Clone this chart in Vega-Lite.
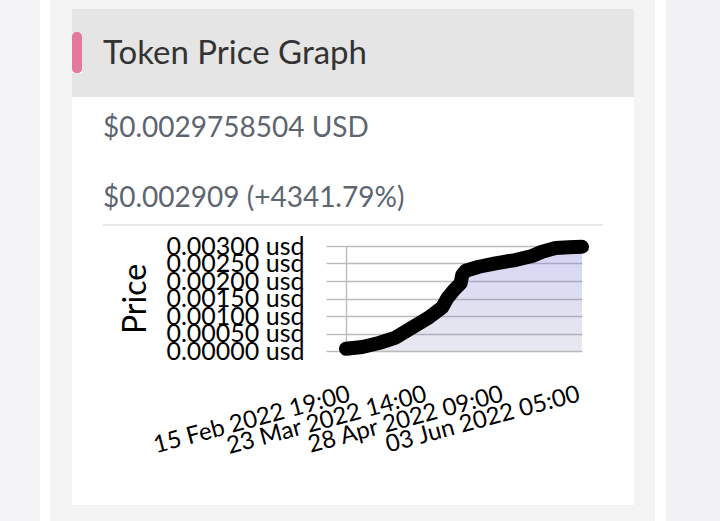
{
  "$schema": "https://vega.github.io/schema/vega-lite/v6.json",
  "padding": 0,
  "background": "#ffffff",
  "config": {"view": {"stroke": null}, "font": "Lato", "concat": {"spacing": 0}},
  "datasets": {
    "blank": [{}],
    "prices": [
      {"time": "2022-02-15T19:00", "price": 0.0000655},
      {"time": "2022-02-23T10:00", "price": 0.000115},
      {"time": "2022-03-03T05:00", "price": 0.000229},
      {"time": "2022-03-11T00:00", "price": 0.000384},
      {"time": "2022-03-18T18:00", "price": 0.000670},
      {"time": "2022-03-26T13:00", "price": 0.000957},
      {"time": "2022-04-01T19:00", "price": 0.001244},
      {"time": "2022-04-04T03:00", "price": 0.001501},
      {"time": "2022-04-07T06:00", "price": 0.001739},
      {"time": "2022-04-10T09:00", "price": 0.001931},
      {"time": "2022-04-11T03:00", "price": 0.002169},
      {"time": "2022-04-12T17:00", "price": 0.002292},
      {"time": "2022-04-18T22:00", "price": 0.002407},
      {"time": "2022-04-26T17:00", "price": 0.002504},
      {"time": "2022-05-06T01:00", "price": 0.002599},
      {"time": "2022-05-13T19:00", "price": 0.002713},
      {"time": "2022-05-18T12:00", "price": 0.002837},
      {"time": "2022-05-24T18:00", "price": 0.002940},
      {"time": "2022-05-30T23:00", "price": 0.002962},
      {"time": "2022-06-06T04:00", "price": 0.002976}
    ]
  },
  "spacing": 0,
  "hconcat": [
    {"width": 40, "height": 521, "data": {"name": "blank"}, "mark": {"type": "point", "opacity": 0, "size": 0, "strokeWidth": 0}, "encoding": {}, "view": {"fill": "#f3f3f5"}},
    {"width": 10, "height": 521, "data": {"name": "blank"}, "mark": {"type": "point", "opacity": 0, "size": 0, "strokeWidth": 0}, "encoding": {}},
    {"width": 22, "height": 521, "data": {"name": "blank"}, "mark": {"type": "point", "opacity": 0, "size": 0, "strokeWidth": 0}, "encoding": {}, "view": {"fill": "#f4f4f4"}},
    {
      "spacing": 0,
      "vconcat": [
        {"width": 562, "height": 9, "data": {"name": "blank"}, "mark": {"type": "point", "opacity": 0, "size": 0, "strokeWidth": 0}, "encoding": {}, "view": {"fill": "#f4f4f4"}},
        {
          "spacing": 0,
          "hconcat": [
            {
              "spacing": 0,
              "vconcat": [
                {"width": 10, "height": 23, "data": {"name": "blank"}, "mark": {"type": "point", "opacity": 0, "size": 0, "strokeWidth": 0}, "encoding": {}, "view": {"fill": "#e5e5e5"}},
                {"width": 10, "height": 41, "data": {"name": "blank"}, "mark": {"type": "point", "opacity": 0, "size": 0, "strokeWidth": 0}, "encoding": {}, "view": {"fill": "#e27a9e", "cornerRadius": 4}},
                {"width": 10, "height": 24, "data": {"name": "blank"}, "mark": {"type": "point", "opacity": 0, "size": 0, "strokeWidth": 0}, "encoding": {}, "view": {"fill": "#e5e5e5"}}
              ]
            },
            {
              "width": 552, "height": 88,
              "data": {"name": "blank"},
              "mark": {"type": "point", "opacity": 0, "size": 0, "strokeWidth": 0},
              "encoding": {},
              "view": {"fill": "#e5e5e5"},
              "title": {"text": "Token Price Graph", "anchor": "start", "frame": "group", "orient": "top", "offset": -88, "baseline": "alphabetic", "dx": 21, "fontSize": 33, "fontWeight": "normal", "color": "#333333", "font": "Lato"}
            }
          ]
        },
        {
          "width": 562, "height": 127,
          "data": {"name": "blank"},
          "mark": {"type": "point", "opacity": 0, "size": 0, "strokeWidth": 0},
          "encoding": {},
          "title": {"text": ["$0.0029758504 USD", "$0.002909 (+4341.79%)"], "anchor": "start", "frame": "group", "orient": "top", "offset": -138, "baseline": "alphabetic", "dx": 31, "lineHeight": 70, "fontSize": 28, "fontWeight": "normal", "color": "#5d6570", "font": "Lato"}
        },
        {
          "spacing": 0,
          "hconcat": [
            {"width": 31, "height": 2, "data": {"name": "blank"}, "mark": {"type": "point", "opacity": 0, "size": 0, "strokeWidth": 0}, "encoding": {}},
            {"width": 500, "height": 2, "data": {"name": "blank"}, "mark": {"type": "point", "opacity": 0, "size": 0, "strokeWidth": 0}, "encoding": {}, "view": {"fill": "#e8e8e8"}}
          ]
        },
        {"width": 562, "height": 8, "data": {"name": "blank"}, "mark": {"type": "point", "opacity": 0, "size": 0, "strokeWidth": 0}, "encoding": {}},
        {
          "spacing": 0,
          "hconcat": [
            {"width": 47, "height": 105, "data": {"name": "blank"}, "mark": {"type": "point", "opacity": 0, "size": 0, "strokeWidth": 0}, "encoding": {}},
            {
              "width": 236, "height": 105,
              "data": {"name": "prices"},
              "encoding": {
                "x": {
                  "field": "time", "type": "temporal",
                  "scale": {"nice": false},
                  "axis": {
                    "title": null,
                    "values": [
                      {"year": 2022, "month": "feb", "date": 15, "hours": 19},
                      {"year": 2022, "month": "mar", "date": 23, "hours": 14},
                      {"year": 2022, "month": "apr", "date": 28, "hours": 9},
                      {"year": 2022, "month": "jun", "date": 3, "hours": 5}
                    ],
                    "format": "%d %b %Y %H:%M",
                    "labelAngle": -15,
                    "labelAlign": "right",
                    "labelBaseline": "top",
                    "labelFontSize": 24,
                    "labelColor": "#000000",
                    "labelPadding": 31,
                    "labelLimit": 400,
                    "labelOverlap": false,
                    "labelFlush": false,
                    "labelBound": false,
                    "ticks": false,
                    "domain": false,
                    "grid": false
                  }
                },
                "y": {
                  "field": "price", "type": "quantitative",
                  "scale": {"domain": [0, 0.003], "nice": false},
                  "axis": {
                    "title": "Price",
                    "titleFontSize": 32,
                    "titleFontWeight": "normal",
                    "titleColor": "#000000",
                    "titlePadding": 13,
                    "values": [0, 0.0005, 0.001, 0.0015, 0.002, 0.0025, 0.003],
                    "labelExpr": "format(datum.value, '.5f') + ' usd'",
                    "labelFontSize": 25,
                    "labelColor": "#000000",
                    "labelPadding": 22,
                    "labelOverlap": false,
                    "labelFlush": false,
                    "tickSize": 20,
                    "tickColor": "#bababa",
                    "tickWidth": 1.4,
                    "domainColor": "#bababa",
                    "domainWidth": 1.4,
                    "grid": true,
                    "gridColor": "#bababa",
                    "gridWidth": 1.4
                  }
                }
              },
              "layer": [
                {
                  "mark": {
                    "type": "area",
                    "color": {
                      "gradient": "linear", "x1": 0, "y1": 0, "x2": 0, "y2": 1,
                      "stops": [
                        {"offset": 0, "color": "rgba(120,120,220,0.32)"},
                        {"offset": 1, "color": "rgba(150,150,190,0.22)"}
                      ]
                    }
                  }
                },
                {
                  "mark": {"type": "line", "color": "#000000", "strokeWidth": 14, "strokeCap": "round", "strokeJoin": "round"}
                }
              ]
            }
          ]
        },
        {"width": 562, "height": 46, "data": {"name": "blank"}, "mark": {"type": "point", "opacity": 0, "size": 0, "strokeWidth": 0}, "encoding": {}},
        {"width": 562, "height": 16, "data": {"name": "blank"}, "mark": {"type": "point", "opacity": 0, "size": 0, "strokeWidth": 0}, "encoding": {}, "view": {"fill": "#f4f4f4"}}
      ]
    },
    {"width": 21, "height": 521, "data": {"name": "blank"}, "mark": {"type": "point", "opacity": 0, "size": 0, "strokeWidth": 0}, "encoding": {}, "view": {"fill": "#f4f4f4"}},
    {"width": 11, "height": 521, "data": {"name": "blank"}, "mark": {"type": "point", "opacity": 0, "size": 0, "strokeWidth": 0}, "encoding": {}},
    {"width": 54, "height": 521, "data": {"name": "blank"}, "mark": {"type": "point", "opacity": 0, "size": 0, "strokeWidth": 0}, "encoding": {}, "view": {"fill": "#f2f2f5"}}
  ]
}
